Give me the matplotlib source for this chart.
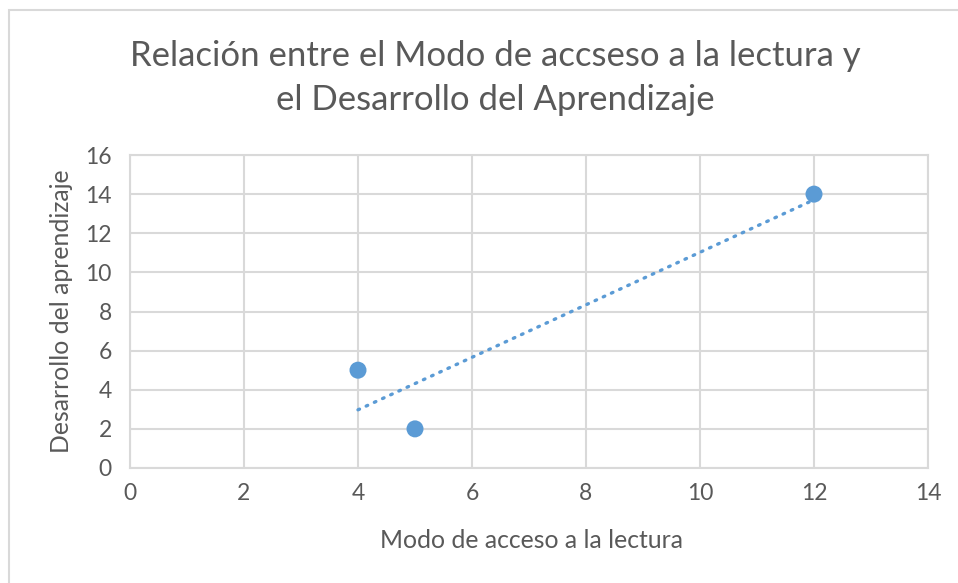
import numpy as np
import matplotlib
matplotlib.use('Agg')
import matplotlib.pyplot as plt
from matplotlib.patches import Rectangle

plt.rcParams['font.family'] = ['Lato', 'DejaVu Sans']

# datos
modo_acceso = [4, 5, 12]
desarrollo = [5, 2, 14]
x_ticks = [0, 2, 4, 6, 8, 10, 12, 14]
y_ticks = [0, 2, 4, 6, 8, 10, 12, 14, 16]

gris = '#595959'
azul = '#5b9bd5'

fig = plt.figure(figsize=(9.58, 5.83), dpi=100)
# borde del area del grafico (solo se ven izquierda y arriba)
fig.patches.append(Rectangle((9 / 958, -0.1), 1.2, 1.1 - 10 / 583, transform=fig.transFigure,
                             fill=False, edgecolor='#d9d9d9', lw=1.5))

ax = fig.add_axes([130 / 958, 1 - 468 / 583, 798 / 958, 313 / 583])

# linea de tendencia lineal
m, b = np.polyfit(modo_acceso, desarrollo, 1)
xs = np.array([min(modo_acceso), max(modo_acceso)])
ax.plot(xs, m * xs + b, color=azul, lw=2.4, linestyle=(0, (0.5, 2.2)),
        dash_capstyle='round', zorder=2)
ax.scatter(modo_acceso, desarrollo, s=150, color=azul, zorder=3, edgecolors='none')

ax.set_xlim(0, 14)
ax.set_ylim(0, 16)
ax.set_xticks(x_ticks)
ax.set_yticks(y_ticks)
ax.grid(True, color='#d9d9d9', lw=1.5)
ax.set_axisbelow(True)
for s in ax.spines.values():
    s.set_color('#d9d9d9')
    s.set_linewidth(1.5)
ax.tick_params(length=0, labelsize=16.5, colors=gris, pad=11)
ax.tick_params(axis='y', pad=13)

fig.text(495 / 958, 1 - 56 / 583, 'Relación entre el Modo de accseso a la lectura y',
         ha='center', va='center', fontsize=25, color=gris)
fig.text(495 / 958, 1 - 100 / 583, 'el Desarrollo del Aprendizaje',
         ha='center', va='center', fontsize=25, color=gris)
fig.text(531 / 958, 1 - 540 / 583, 'Modo de acceso a la lectura',
         ha='center', va='center', fontsize=17.8, color=gris)
fig.text(62 / 958, 1 - 311 / 583, 'Desarrollo del aprendizaje', rotation=90,
         ha='center', va='center', fontsize=17.8, color=gris)

fig.savefig('out.png', dpi=100)
